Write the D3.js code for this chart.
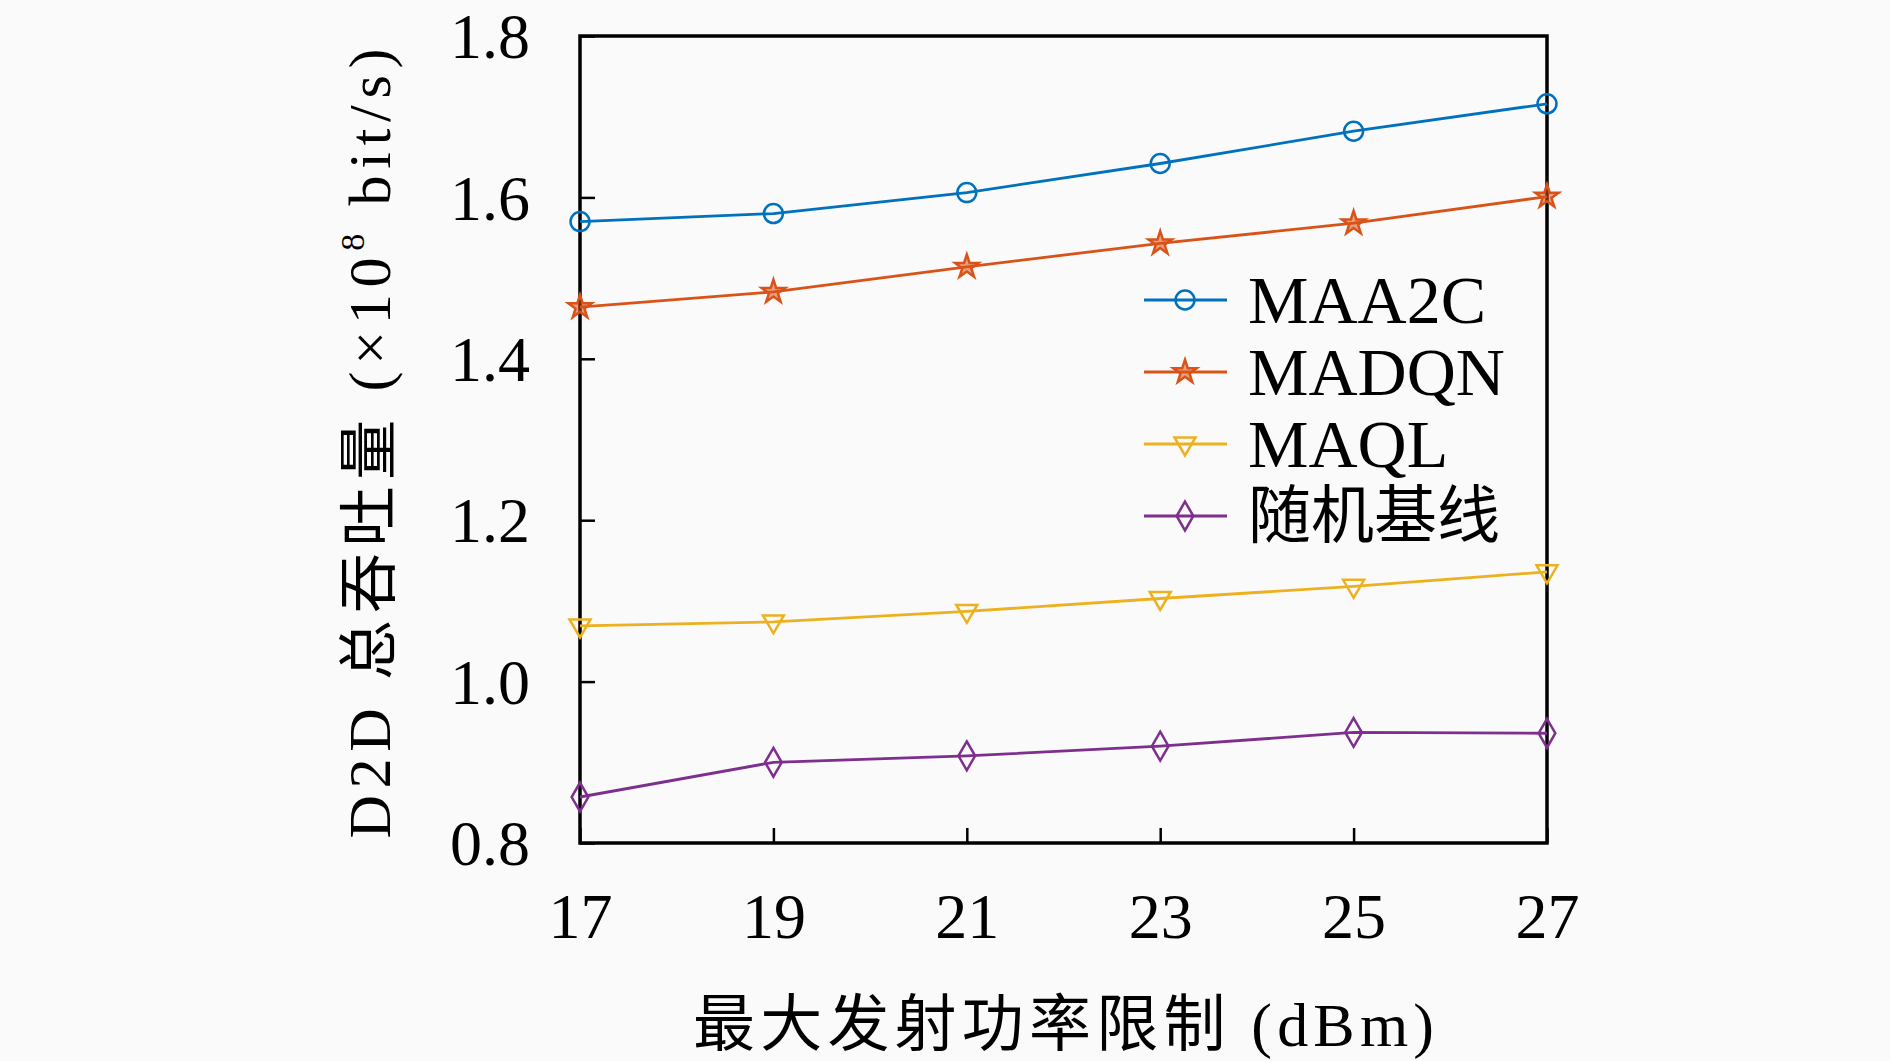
<!DOCTYPE html>
<html>
<head>
<meta charset="utf-8">
<script src="https://cdn.jsdelivr.net/npm/d3@7"></script>
<style>
  html, body { margin: 0; padding: 0; background: #fafafa; }
  svg { display: block; }
</style>
</head>
<body>
<svg id="chart" width="1890" height="1061"></svg>
<script>
// ---- data ----
const xValues = [17, 19, 21, 23, 25, 27];
const yTicks = [0.8, 1.0, 1.2, 1.4, 1.6, 1.8];
const seriesNames = ["MAA2C", "MADQN", "MAQL", "随机基线"];
const maa2c = [1.570, 1.580, 1.606, 1.642, 1.682, 1.716];
const madqn = [1.464, 1.483, 1.514, 1.543, 1.568, 1.601];
const maql  = [1.069, 1.074, 1.087, 1.103, 1.118, 1.136];
const randomBaseline = [0.857, 0.900, 0.908, 0.920, 0.937, 0.936];
const xLabel = "最大发射功率限制 (dBm)";

const seriesValues = [maa2c, madqn, maql, randomBaseline];
const colors = ["#0072BD", "#D95319", "#EDB120", "#7E2F8E"];
const markers = ["circle", "star", "triDown", "diamond"];

// ---- layout ----
const svg = d3.select("#chart");
svg.append("rect").attr("width", 1890).attr("height", 1061).attr("fill", "#fafafa");
const L = 580, R = 1547, T = 36, B = 843;
const x = d3.scaleLinear().domain([17, 27]).range([L, R]);
const y = d3.scaleLinear().domain([0.8, 1.8]).range([B, T]);

const serif = "'Liberation Serif', 'DejaVu Serif', serif";
const cjk = "'Liberation Serif', 'Noto Sans CJK SC', serif";

// axes (ticks inside)
const xAxis = d3.axisBottom(x).tickValues(xValues).tickSize(-15).tickPadding(0).tickFormat(d3.format("d"));
const yAxis = d3.axisLeft(y).tickValues(yTicks).tickSize(-15).tickPadding(0).tickFormat(d3.format(".1f"));

const gx = svg.append("g").attr("transform", `translate(0,${B})`).call(xAxis);
gx.select(".domain").remove();
gx.selectAll(".tick line").attr("stroke", "#000").attr("stroke-width", 2.5);
gx.selectAll(".tick text")
  .attr("y", 95).attr("dy", 0)
  .attr("font-family", serif).attr("font-size", 64).attr("fill", "#000");

const gy = svg.append("g").attr("transform", `translate(${L},0)`).call(yAxis);
gy.select(".domain").remove();
gy.selectAll(".tick line").attr("stroke", "#000").attr("stroke-width", 2.5);
gy.selectAll(".tick text")
  .attr("x", -50).attr("dy", "0.34em")
  .attr("font-family", serif).attr("font-size", 64).attr("fill", "#000");

// frame
svg.append("rect")
  .attr("x", L).attr("y", T).attr("width", R - L).attr("height", B - T)
  .attr("fill", "none").attr("stroke", "#000").attr("stroke-width", 3.5);

// marker path generator
function markerPath(type) {
  if (type === "circle") return d3.symbol().type(d3.symbolCircle).size(Math.PI * 90)();
  if (type === "star") return d3.symbol().type(d3.symbolStar).size(170)();
  if (type === "diamond") return d3.symbol().type(d3.symbolDiamond).size(240)();
  if (type === "triDown") return "M-10.5,-6.5L10.5,-6.5L0,11.5Z";
}

// lines
const line = d3.line().x((d, i) => x(xValues[i])).y(d => y(d));
seriesValues.forEach((vals, si) => {
  svg.append("path")
    .attr("d", line(vals))
    .attr("fill", "none")
    .attr("stroke", colors[si])
    .attr("stroke-width", 2.8);
  svg.append("g").selectAll("path")
    .data(vals)
    .join("path")
    .attr("transform", (d, i) => `translate(${x(xValues[i])},${y(d)})`)
    .attr("d", markerPath(markers[si]))
    .attr("fill", markers[si] === "star" ? colors[si] : "none")
    .attr("fill-opacity", 0.55)
    .attr("stroke", colors[si])
    .attr("stroke-width", 2.5);
});

// legend
const legY0 = 300, legDy = 72;
const leg = svg.append("g");
seriesNames.forEach((name, si) => {
  const yy = legY0 + si * legDy;
  leg.append("line")
    .attr("x1", 1144).attr("x2", 1227).attr("y1", yy).attr("y2", yy)
    .attr("stroke", colors[si]).attr("stroke-width", 2.8);
  leg.append("path")
    .attr("transform", `translate(1185,${yy})`)
    .attr("d", markerPath(markers[si]))
    .attr("fill", markers[si] === "star" ? colors[si] : "none")
    .attr("fill-opacity", 0.55)
    .attr("stroke", colors[si]).attr("stroke-width", 2.5);
  leg.append("text")
    .attr("x", 1248).attr("y", yy).attr("dy", "0.34em")
    .attr("font-family", si === 3 ? cjk : serif)
    .attr("font-size", si === 3 ? 63 : 68)
    .attr("fill", "#000")
    .text(name);
});

// x label
svg.append("text")
  .attr("x", (L + R) / 2).attr("y", 1046)
  .attr("text-anchor", "middle")
  .attr("font-family", cjk).attr("font-size", 62)
  .attr("textLength", 741).attr("lengthAdjust", "spacing")
  .attr("fill", "#000")
  .text(xLabel);

// y label
const yl = svg.append("text")
  .attr("transform", `translate(390,${(T + B) / 2 + 4}) rotate(-90)`)
  .attr("text-anchor", "middle")
  .attr("font-family", cjk).attr("font-size", 60)
  .attr("textLength", 790).attr("lengthAdjust", "spacing")
  .attr("fill", "#000");
yl.append("tspan").text("D2D 总吞吐量 (×10");
yl.append("tspan").attr("font-size", 34).attr("dy", -26).text("8");
yl.append("tspan").attr("dy", 26).text(" bit/s)");
</script>
</body>
</html>
